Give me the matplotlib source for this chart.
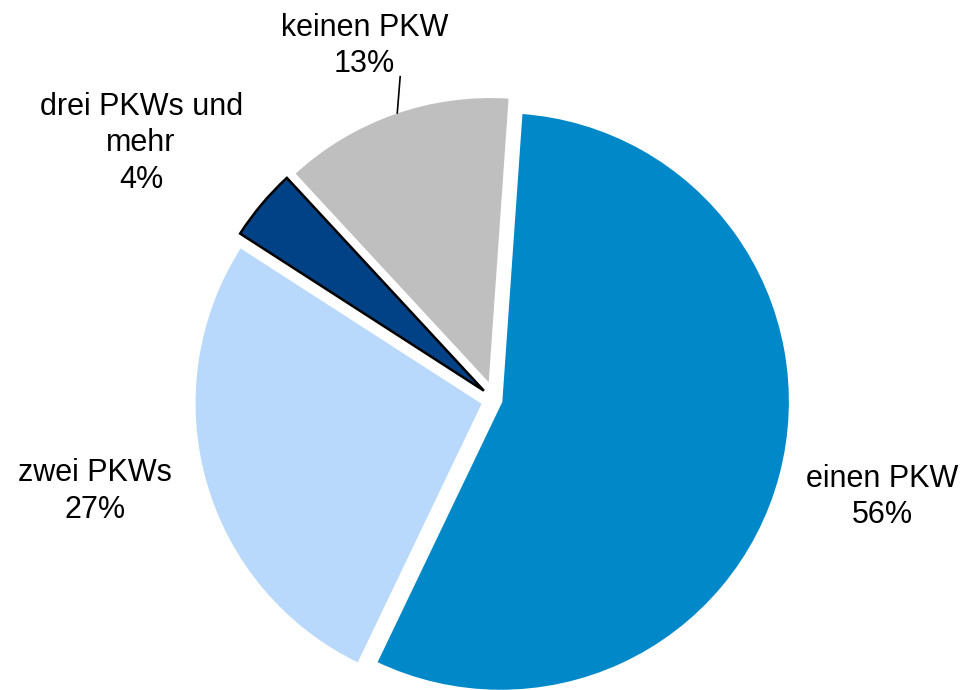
import matplotlib.pyplot as plt

plt.rcParams['font.family'] = ['Liberation Sans', 'DejaVu Sans']

# Datos
categorias = ['einen PKW', 'zwei PKWs', 'drei PKWs und\nmehr', 'keinen PKW']
anteile = [56, 27, 4, 13]
colores = ['#0088C9', '#B8D9FC', '#004285', '#BFBFBF']
separacion = [0.02, 0.04, 0.05, 0.05]

fig = plt.figure(figsize=(9.64, 6.9), dpi=100)
ax = fig.add_axes([0, 0, 1, 1])

wedges, _ = ax.pie(anteile, colors=colores, explode=separacion, startangle=86,
                   counterclock=False, radius=1.0,
                   wedgeprops=dict(edgecolor='white', linewidth=2.5))

# borde negro para el sector oscuro
wedges[2].set_edgecolor('black')
wedges[2].set_linewidth(1.8)

# Etiquetas
pos_etiquetas = [(1.335, -0.335), (-1.38, -0.315), (-1.22, 0.885), (-0.45, 1.22)]
for nombre, valor, (x, y) in zip(categorias, anteile, pos_etiquetas):
    ax.text(x, y, f'{nombre}\n{valor}%', ha='center', va='center',
            fontsize=22, linespacing=1.28, color='black')

# linea guia para "keinen PKW"
ax.plot([-0.327, -0.337], [1.115, 0.99], color='black', lw=1.2)

ax.set_xlim(-495 / 290, (964 - 495) / 290)
ax.set_ylim(-(690 - 400) / 290, 400 / 290)
ax.set_aspect('auto')
ax.axis('off')

fig.savefig('out.png', dpi=100)
